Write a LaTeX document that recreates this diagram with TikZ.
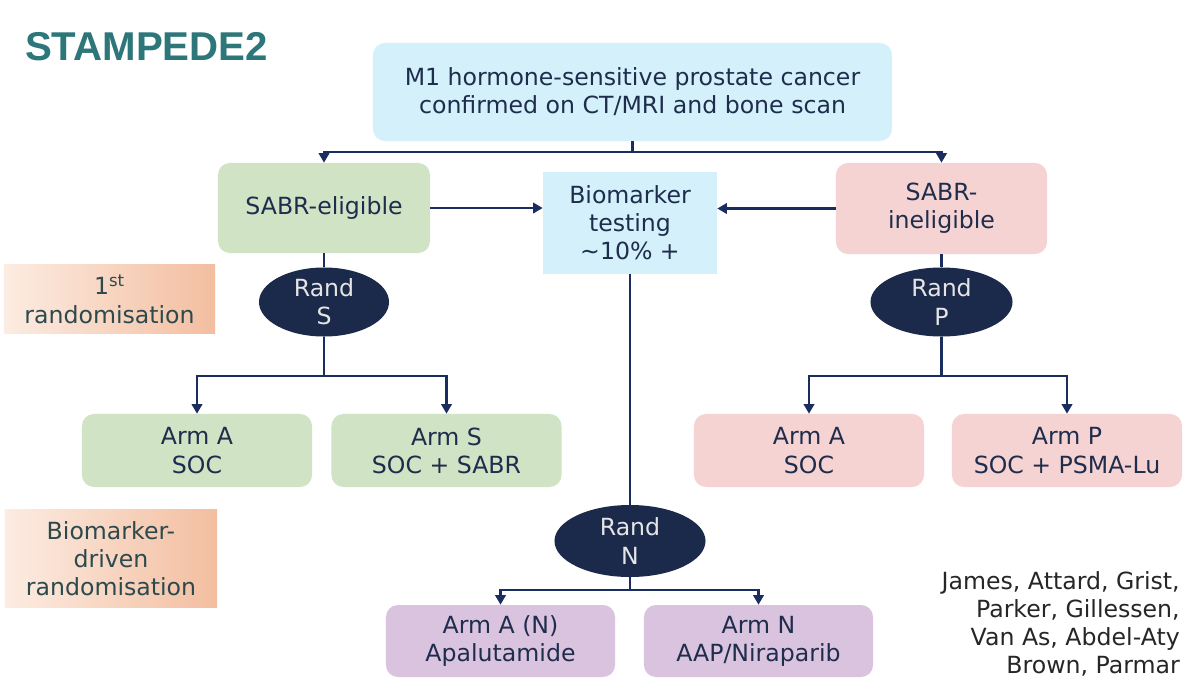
\documentclass[tikz,border=0pt]{standalone}
\usepackage{fontspec}
\setmainfont{DejaVu Sans}
\newfontfamily\titlefont{Liberation Sans}
\usetikzlibrary{arrows.meta,shapes.geometric}

\definecolor{randnavy}{RGB}{27,42,74}
\definecolor{linkblue}{RGB}{25,45,95}
\definecolor{textnavy}{RGB}{31,45,77}
\definecolor{cyanbox}{RGB}{212,241,251}
\definecolor{greenbox}{RGB}{208,227,197}
\definecolor{pinkbox}{RGB}{246,211,211}
\definecolor{purplebox}{RGB}{218,195,223}
\definecolor{peachlight}{RGB}{252,236,226}
\definecolor{peachdark}{RGB}{243,190,160}
\definecolor{sidetext}{RGB}{44,74,78}
\definecolor{titleteal}{RGB}{45,118,122}

\begin{document}
\begin{tikzpicture}[x=0.025cm, y=-0.025cm,
    font=\fontsize{16.8}{20}\selectfont,
    box/.style={rounded corners=0.3cm, text=textnavy, align=center, inner sep=0pt},
    armbox/.style={box, minimum width=5.75cm, minimum height=1.825cm},
    randnode/.style={ellipse, fill=randnavy, text=white!90!black, align=center, inner sep=0pt},
    sidebox/.style={left color=peachlight, right color=peachdark, text=sidetext, align=center, inner sep=0pt},
    link/.style={draw=linkblue, line width=1.9pt},
    arr/.style={link, -{Triangle[length=0.24cm,width=0.26cm]}}]

    \useasboundingbox (0,0) rectangle (1200,697);
    \fill[white] (0,0) rectangle (1200,697);

    \node[text=titleteal, inner sep=0pt, font=\titlefont\bfseries\fontsize{28.6}{30}\selectfont] (title) at (146.5,47) {STAMPEDE2};

    % top of the trial
    \node[box, fill=cyanbox, minimum width=12.975cm, minimum height=2.45cm] (cancer) at (632.5,92)
        {M1 hormone-sensitive prostate cancer\\confirmed on CT/MRI and bone scan};
    \node[box, fill=greenbox, minimum width=5.3cm, minimum height=2.25cm] (elig) at (324,208) {SABR-eligible};
    \node[box, sharp corners, fill=cyanbox, minimum width=4.35cm, minimum height=2.55cm] (bio) at (630,223)
        {Biomarker\\testing\\\textasciitilde10\% +};
    \node[box, fill=pinkbox, minimum width=5.275cm, minimum height=2.275cm] (inelig) at (941.5,208.5) {SABR-\\ineligible};

    % randomisations
    \node[randnode, minimum width=3.25cm, minimum height=1.725cm] (randS) at (324,302) {Rand\\S};
    \node[randnode, minimum width=3.55cm, minimum height=1.725cm] (randP) at (941.5,302) {Rand\\P};
    \node[randnode, minimum width=3.775cm, minimum height=1.8cm] (randN) at (630,541) {Rand\\N};

    % arms
    \node[armbox, fill=greenbox] (armAS) at (197,450.5) {Arm A\\SOC};
    \node[armbox, fill=greenbox] (armS) at (446.5,450.5) {Arm S\\SOC + SABR};
    \node[armbox, fill=pinkbox] (armAP) at (809,450.5) {Arm A\\SOC};
    \node[armbox, fill=pinkbox] (armP) at (1067,450.5) {Arm P\\SOC + PSMA-Lu};
    \node[armbox, fill=purplebox, minimum width=5.725cm, minimum height=1.8cm] (armAN) at (500.5,641) {Arm A (N)\\Apalutamide};
    \node[armbox, fill=purplebox, minimum width=5.725cm, minimum height=1.8cm] (armN) at (758.5,641) {Arm N\\AAP/Niraparib};

    % labels on the left
    \node[sidebox, minimum width=5.275cm, minimum height=1.7cm] (first) at (109.5,299) {1\textsuperscript{st}\\randomisation};
    \node[sidebox, minimum width=5.3cm, minimum height=2.425cm] (bmdriven) at (111,558.5) {Biomarker-\\driven\\randomisation};

    \node[align=right, anchor=east, inner sep=0pt, text=black!85] (authors) at (1180,624)
        {James, Attard, Grist,\\Parker, Gillessen,\\Van As, Abdel-Aty\\Brown, Parmar};

    % connectors
    \coordinate (topfork) at (632.5,152);
    \coordinate (sfork) at (324,376);
    \coordinate (pfork) at (941.5,376);
    \coordinate (nfork) at (630,590);

    \draw[link] (cancer) -- (topfork);
    \draw[arr] (topfork) -| (elig);
    \draw[arr] (topfork) -| (inelig);
    \draw[arr] (elig.east) -- (elig.east -| bio.west);
    \draw[arr] (inelig.west) -- (inelig.west -| bio.east);

    \draw[link] (elig) -- (randS);
    \draw[link] (randS) -- (sfork);
    \draw[arr] (sfork) -| (armAS);
    \draw[arr] (sfork) -| (armS);

    \draw[link] (inelig) -- (randP);
    \draw[link] (randP) -- (pfork);
    \draw[arr] (pfork) -| (armAP);
    \draw[arr] (pfork) -| (armP);

    \draw[link] (bio) -- (randN);
    \draw[link] (randN) -- (nfork);
    \draw[arr] (nfork) -| (armAN);
    \draw[arr] (nfork) -| (armN);
\end{tikzpicture}
\end{document}
